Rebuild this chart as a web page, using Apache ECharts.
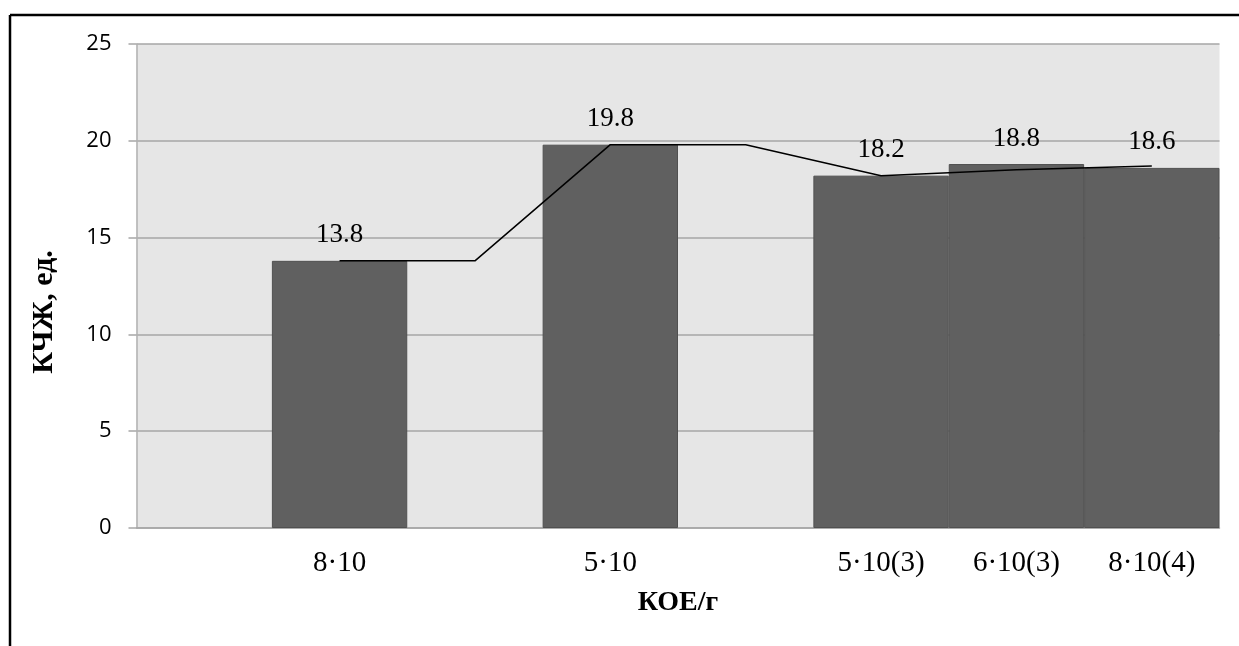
<!DOCTYPE html>
<html>
<head>
<meta charset="utf-8">
<script src="https://cdn.jsdelivr.net/npm/echarts@6/dist/echarts.min.js"></script>
<style>
html,body{margin:0;padding:0;background:#fff;}
#chart{width:1239px;height:646px;}
</style>
</head>
<body>
<div id="chart"></div>
<script>
// Category slots (empty slots are gaps in the original chart)
const categories = ['', '8·10', '', '5·10', '', '5·10(3)', '6·10(3)', '8·10(4)'];
// Bar values (КЧЖ, ед.)
const barValues = [null, 13.8, null, 19.8, null, 18.2, 18.8, 18.6];
// Trend line values
const trendValues = [null, 13.8, 13.8, 19.8, 19.8, 18.2, 18.5, 18.7];
// Y axis ticks
const yMin = 0, yMax = 25, yStep = 5;
const xTitle = 'КОЕ/г';
const yTitle = 'КЧЖ, ед.';

const chart = echarts.init(document.getElementById('chart'), null, {renderer: 'canvas'});
chart.setOption({
  animation: false,
  backgroundColor: '#ffffff',
  grid: {
    left: 136.5, right: 19.5, top: 44, bottom: 118,
    show: true, backgroundColor: '#e6e6e6', borderWidth: 0
  },
  xAxis: {
    type: 'category',
    data: categories,
    boundaryGap: true,
    axisLine: {show: true, lineStyle: {color: '#a6a6a6', width: 1.5}},
    axisTick: {show: false},
    axisLabel: {
      interval: 0, margin: 21, color: '#000',
      fontFamily: 'Liberation Serif', fontSize: 29
    },
    name: xTitle,
    nameLocation: 'middle',
    nameGap: 61,
    nameTextStyle: {fontFamily: 'Liberation Serif', fontWeight: 'bold', fontSize: 28, color: '#000'}
  },
  yAxis: {
    type: 'value',
    min: yMin, max: yMax, interval: yStep,
    axisLine: {show: true, lineStyle: {color: '#b0b0b0', width: 1.5}},
    axisTick: {show: true, inside: false, length: 8, lineStyle: {color: '#a6a6a6', width: 1.5}},
    splitLine: {show: true, lineStyle: {color: '#a6a6a6', width: 1.5}},
    axisLabel: {margin: 25, color: '#000', fontFamily: 'Open Sans', fontSize: 22}
  },
  series: [
    {
      type: 'bar',
      data: barValues,
      barCategoryGap: '0%',
      itemStyle: {color: '#606060', borderColor: '#505050', borderWidth: 1},
      label: {
        show: true, position: 'top', distance: 12,
        color: '#000', fontFamily: 'Liberation Serif', fontSize: 27,
        formatter: p => p.value.toFixed(1)
      },
      z: 2
    },
    {
      type: 'line',
      data: trendValues,
      showSymbol: false,
      symbol: 'none',
      lineStyle: {color: '#000', width: 1.5},
      z: 3
    }
  ],
  graphic: [
    {type: 'line', shape: {x1: 10, y1: 15, x2: 1239, y2: 15}, style: {stroke: '#000', lineWidth: 2.5}},
    {type: 'line', shape: {x1: 10, y1: 15, x2: 10, y2: 646}, style: {stroke: '#000', lineWidth: 2.5}},
    {
      type: 'text', x: 44, y: 312, rotation: Math.PI / 2,
      style: {
        text: yTitle, fontFamily: 'Liberation Serif', fontWeight: 'bold', fontSize: 30,
        fill: '#000', align: 'center', verticalAlign: 'middle'
      }
    }
  ]
});
</script>
</body>
</html>
